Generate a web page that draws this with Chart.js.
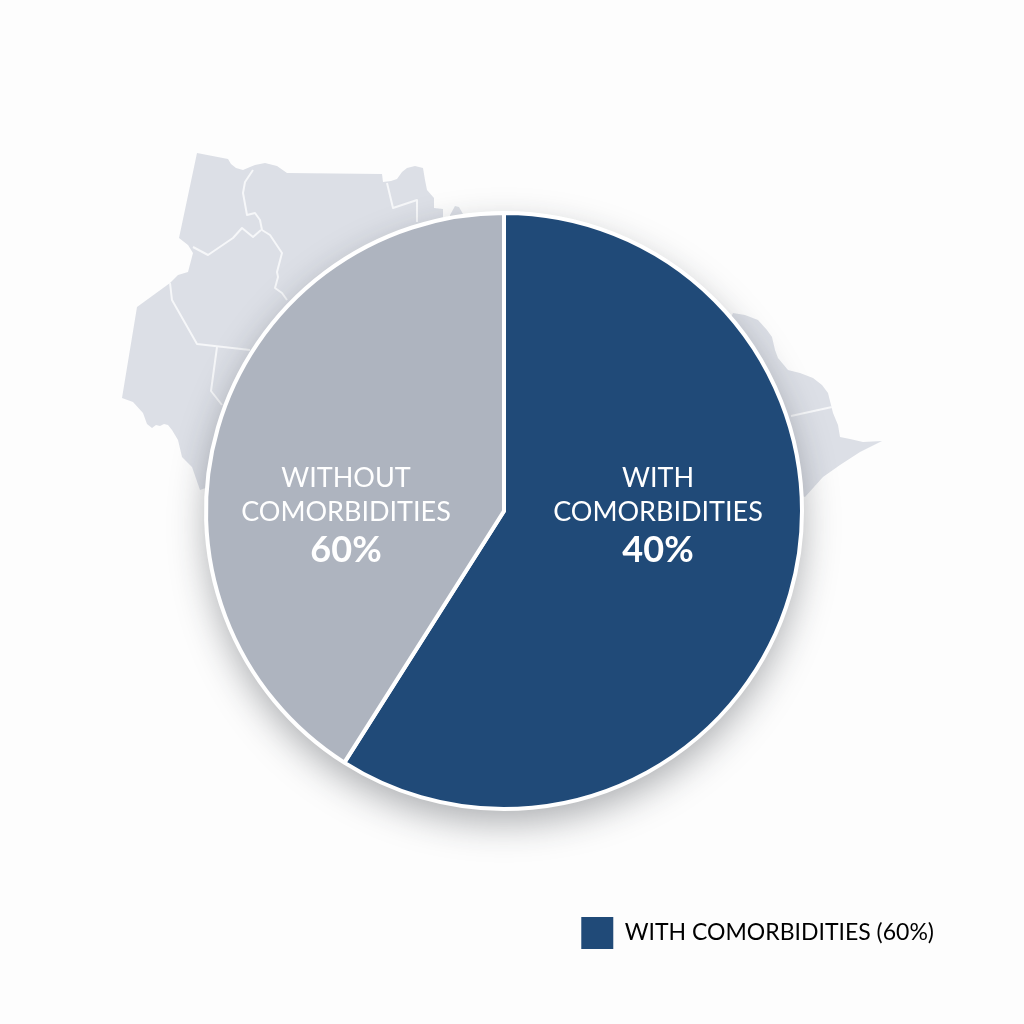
<!DOCTYPE html>
<html>
<head>
<meta charset="utf-8">
<title>Comorbidities</title>
<script src="https://cdn.jsdelivr.net/npm/chart.js@4"></script>
<style>
    html, body { margin: 0; padding: 0; background: #fdfdfd; }
    #wrap { width: 1024px; height: 1024px; position: relative; }
</style>
</head>
<body>
<div id="wrap"><canvas id="pieChart" width="1024" height="1024"></canvas></div>
<script>
const categories = ["WITH COMORBIDITIES", "WITHOUT COMORBIDITIES"];
const sliceValues = [59, 41]; // measured from the slice angles
const sliceLabels = [["WITH", "COMORBIDITIES", "40%"], ["WITHOUT", "COMORBIDITIES", "60%"]];
const legendText = "WITH COMORBIDITIES (60%)";
const sliceColors = ["#204a78", "#aeb4bf"];

// Background map, page pixels
const mapShapes = [
    [[197,153],[228,159],[231,164],[236,168],[243,170],[250,167],[255,165],[265,163],[277,166],[287,173],[382,174],[383,182],[391,181],[397,179],[402,172],[407,168],[415,166],[423,168],[425,180],[427,190],[434,198],[434,208],[443,209],[443,217],[480,260],[400,420],[200,490],[192,467],[182,457],[178,440],[172,430],[168,425],[164,424],[160,426],[156,425],[152,428],[147,424],[143,413],[133,402],[122,398],[137,307],[170,283],[178,275],[188,272],[193,253],[188,245],[179,238]],
    [[450,215],[455,206],[459,207],[463,214],[460,230],[450,230]],
    [[733,313],[745,315],[758,320],[767,330],[772,337],[775,350],[778,358],[788,370],[800,373],[813,378],[822,385],[828,393],[831,405],[833,413],[838,425],[840,437],[850,439],[863,442],[882,441],[860,452],[840,465],[823,477],[805,497],[750,480],[720,340]]
];
const mapBorders = [
    [[253,170],[245,182],[243,193],[247,215],[255,213],[260,220],[262,230],[270,235],[282,253],[277,272],[278,277],[275,288],[282,293],[287,300]],
    [[193,247],[208,255],[233,238],[242,228],[253,237],[261,230]],
    [[170,283],[172,300],[197,344],[250,350]],
    [[217,347],[211,391],[222,405]],
    [[387,183],[393,208],[417,200],[417,222]],
    [[791,416],[832,407]]
];

function tracePath(ctx, points) {
    ctx.beginPath();
    points.forEach((p, i) => {
        if (i === 0) ctx.moveTo(p[0], p[1]);
        else ctx.lineTo(p[0], p[1]);
    });
}

// Draws the map and the soft shadow under the pie
const backdropPlugin = {
    id: "backdrop",
    beforeDatasetsDraw(chart) {
        const ctx = chart.ctx;
        const arc = chart.getDatasetMeta(0).data[0];
        ctx.save();
        ctx.fillStyle = "#dcdfe6";
        mapShapes.forEach((shape) => {
            tracePath(ctx, shape);
            ctx.closePath();
            ctx.fill();
        });
        ctx.strokeStyle = "#f6f7f9";
        ctx.lineWidth = 2;
        ctx.lineJoin = "round";
        mapBorders.forEach((line) => {
            tracePath(ctx, line);
            ctx.stroke();
        });
        ctx.shadowColor = "rgba(30, 35, 45, 0.36)";
        ctx.shadowBlur = 36;
        ctx.shadowOffsetY = 14;
        ctx.fillStyle = "#ffffff";
        ctx.beginPath();
        ctx.arc(arc.x, arc.y, arc.outerRadius, 0, Math.PI * 2);
        ctx.fill();
        ctx.restore();
    }
};

// Text inside the slices
const sliceLabelPlugin = {
    id: "sliceLabels",
    afterDatasetsDraw(chart) {
        const ctx = chart.ctx;
        const arc = chart.getDatasetMeta(0).data[0];
        const offsets = [154, -158];
        ctx.save();
        ctx.fillStyle = "#ffffff";
        ctx.textAlign = "center";
        ctx.textBaseline = "middle";
        sliceLabels.forEach((lines, i) => {
            const x = arc.x + offsets[i];
            ctx.font = "400 27px Lato";
            ctx.fillText(lines[0], x, arc.y - 33);
            ctx.fillText(lines[1], x, arc.y + 1);
            ctx.font = "700 36px Lato";
            ctx.fillText(lines[2], x, arc.y + 39);
        });
        ctx.restore();
    }
};

new Chart(document.getElementById("pieChart").getContext("2d"), {
    type: "pie",
    data: {
        labels: categories,
        datasets: [{
            data: sliceValues,
            backgroundColor: sliceColors,
            borderColor: "#ffffff",
            borderWidth: 4,
            radius: 298
        }]
    },
    options: {
        responsive: false,
        animation: false,
        layout: { padding: { left: 70, right: 86, top: 109, bottom: 65 } },
        plugins: {
            title: { display: false },
            tooltip: { enabled: false },
            legend: {
                position: "bottom",
                align: "end",
                labels: {
                    boxWidth: 32,
                    boxHeight: 32,
                    padding: 4,
                    color: "#333333",
                    font: { family: "Lato", size: 23, weight: "400" },
                    generateLabels() {
                        return [{ text: legendText, fillStyle: sliceColors[0], strokeStyle: sliceColors[0], lineWidth: 0, index: 0 }];
                    }
                }
            }
        }
    },
    plugins: [backdropPlugin, sliceLabelPlugin]
});
</script>
</body>
</html>
